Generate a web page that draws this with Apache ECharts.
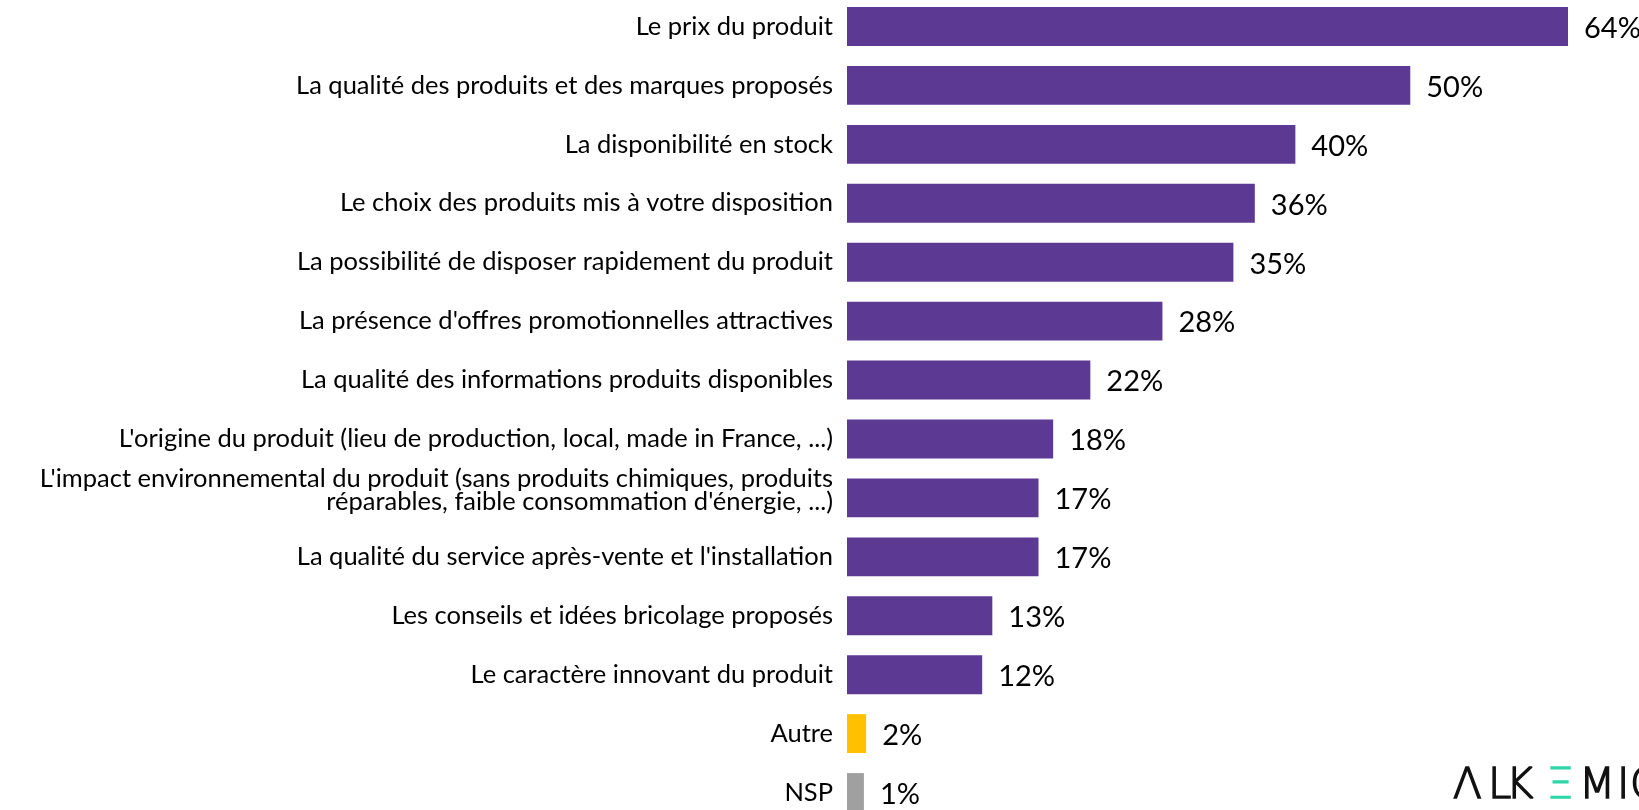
<!DOCTYPE html>
<html>
<head>
<meta charset="utf-8">
<script src="https://cdn.jsdelivr.net/npm/echarts@6/dist/echarts.min.js"></script>
<style>
  html, body { margin: 0; padding: 0; background: #fff; }
  #chart { width: 1639px; height: 810px; }
</style>
</head>
<body>
<div id="chart"></div>
<script>
// critères de choix (ordre du graphique, du haut vers le bas)
const categories = [
    'Le prix du produit',
    'La qualité des produits et des marques proposés',
    'La disponibilité en stock',
    'Le choix des produits mis à votre disposition',
    'La possibilité de disposer rapidement du produit',
    "La présence d'offres promotionnelles attractives",
    'La qualité des informations produits disponibles',
    "L'origine du produit (lieu de production, local, made in France, ...)",
    "L'impact environnemental du produit (sans produits chimiques, produits\nréparables, faible consommation d'énergie, ...)",
    "La qualité du service après-vente et l'installation",
    'Les conseils et idées bricolage proposés',
    'Le caractère innovant du produit',
    'Autre',
    'NSP',
];
// longueurs de barres
const values = [64, 50, 39.8, 36.2, 34.3, 28, 21.6, 18.3, 17, 17, 12.9, 12, 1.7, 1.5];
// pourcentages affichés
const labelTexts = ['64%', '50%', '40%', '36%', '35%', '28%', '22%', '18%', '17%', '17%', '13%', '12%', '2%', '1%'];
const barColors = [
    '#5c3a93', '#5c3a93', '#5c3a93', '#5c3a93', '#5c3a93', '#5c3a93', '#5c3a93',
    '#5c3a93', '#5c3a93', '#5c3a93', '#5c3a93', '#5c3a93', '#ffc000', '#a0a0a0',
];

// logo (lettres séparées pour l'espacement)
const logoLetters = ['Λ', 'L', 'K', 'Ξ', 'M', 'I', 'C'];
const logoX = [1453, 1488, 1506, 1547, 1579, 1617, 1630];

const chart = echarts.init(document.getElementById('chart'));
const font = 'Lato, "Open Sans", sans-serif';

const option = {
    animation: false,
    backgroundColor: '#fff',
    grid: {
        left: 847,
        right: 71,
        top: -3,
        bottom: -12,
        outerBoundsMode: 'none', // la dernière barre dépasse du cadre
        containLabel: false,
    },
    xAxis: {
        type: 'value',
        min: 0,
        max: 64,
        show: false,
    },
    yAxis: {
        type: 'category',
        data: categories,
        inverse: true,
        axisLine: { show: false },
        axisTick: { show: false },
        axisLabel: {
            margin: 14,
            color: '#000',
            fontSize: 25.5,
            fontFamily: font,
            lineHeight: 22,
            align: 'right',
            // le libellé sur deux lignes est un peu remonté (ligne vide en dessous)
            formatter: (val) => {
                if (val.indexOf('\n') < 0) return val;
                return val.split('\n').map((l) => '{t|' + l + '}').join('\n') + '\n{s| }';
            },
            rich: {
                t: { fontSize: 25.5, fontFamily: font, lineHeight: 23, color: '#000', align: 'right' },
                s: { fontSize: 2, lineHeight: 16, align: 'right' },
            },
        },
    },
    series: [
        {
            type: 'bar',
            barCategoryGap: '34%',
            data: values.map((v, i) => ({ value: v, itemStyle: { color: barColors[i] } })),
            label: {
                show: true,
                position: 'right',
                distance: 16,
                offset: [0, 2],
                formatter: (p) => labelTexts[p.dataIndex],
                color: '#000',
                fontSize: 29,
                fontFamily: font,
            },
        },
    ],
    graphic: logoLetters.map((ch, i) => ({
        type: 'text',
        x: logoX[i],
        y: 766,
        style: {
            text: ch,
            fontSize: 42,
            fontFamily: 'DejaVu Sans',
            fontWeight: 200,
            fill: ch === 'Ξ' ? '#2fd6a8' : '#111',
            stroke: ch === 'Ξ' ? '#2fd6a8' : '#111',
            lineWidth: 1.5,
        },
    })),
};

chart.setOption(option, true);
</script>
</body>
</html>
